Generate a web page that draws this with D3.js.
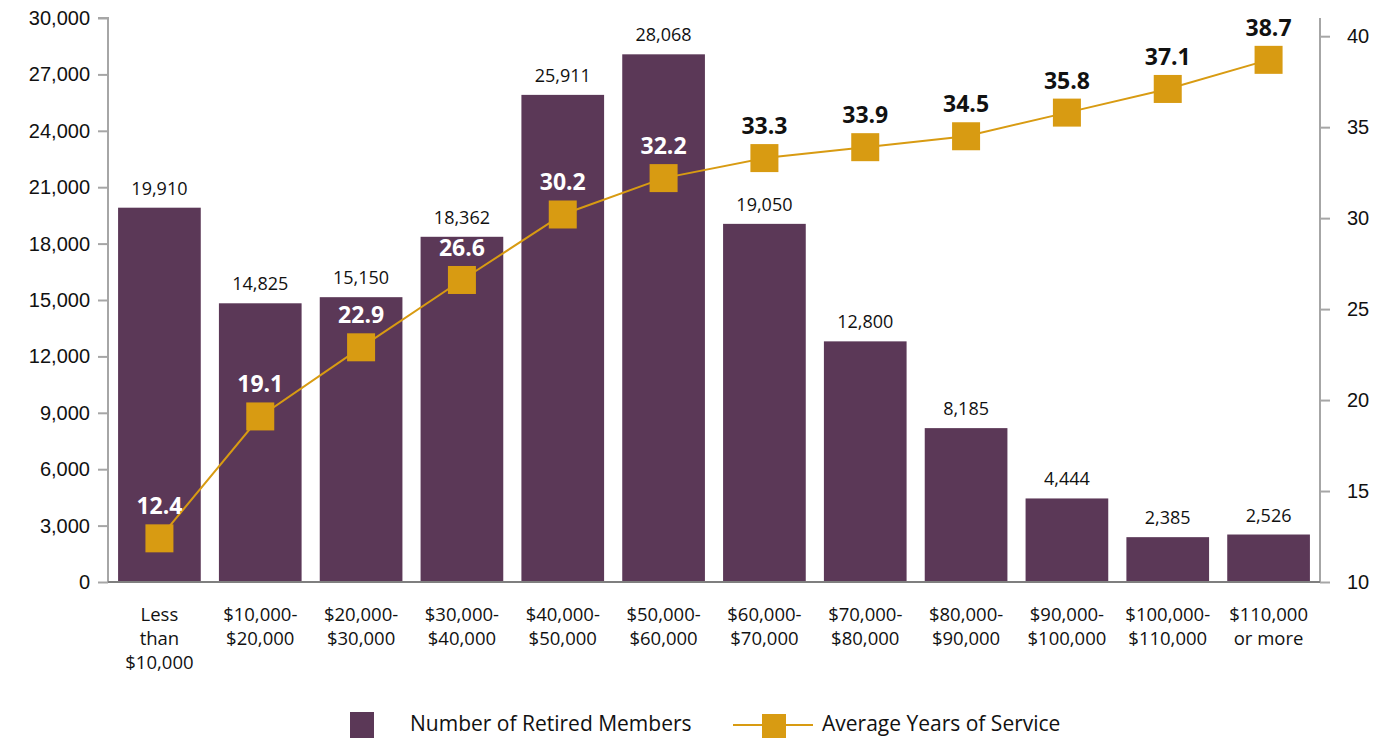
<!DOCTYPE html>
<html>
<head>
<meta charset="utf-8">
<script src="https://cdn.jsdelivr.net/npm/d3@7"></script>
<style>
  body { margin: 0; background: #fff; }
  svg { font-family: "Open Sans", "Noto Sans", sans-serif; }
</style>
</head>
<body>
<svg id="chart" width="1385" height="738"></svg>
<script>
// categories (salary bands), split into label lines
var categories = [
  ["Less", "than", "$10,000"],
  ["$10,000-", "$20,000"],
  ["$20,000-", "$30,000"],
  ["$30,000-", "$40,000"],
  ["$40,000-", "$50,000"],
  ["$50,000-", "$60,000"],
  ["$60,000-", "$70,000"],
  ["$70,000-", "$80,000"],
  ["$80,000-", "$90,000"],
  ["$90,000-", "$100,000"],
  ["$100,000-", "$110,000"],
  ["$110,000", "or more"]
]
var retiredMembers = [19910, 14825, 15150, 18362, 25911, 28068, 19050, 12800, 8185, 4444, 2385, 2526]
var avgYears = [12.4, 19.1, 22.9, 26.6, 30.2, 32.2, 33.3, 33.9, 34.5, 35.8, 37.1, 38.7]
var leftTicks = [0, 3000, 6000, 9000, 12000, 15000, 18000, 21000, 24000, 27000, 30000]
var rightTicks = [10, 15, 20, 25, 30, 35, 40]

var barColor = "#5b3857"
var lineColor = "#d89b12"
var axisColor = "#a6a6a6"

var svg = d3.select("#chart")
// note: "top" is taken by window.top, so use plot* names
var plotLeft = 108, plotRight = 1320, plotTop = 18, plotBottom = 582

var x = d3.scaleBand()
  .domain(d3.range(categories.length))
  .range([plotLeft, plotRight])
  .paddingInner(0.18)
  .paddingOuter(0.1)

var y = d3.scaleLinear().domain([0, 30000]).range([plotBottom, plotTop])
var y2 = d3.scaleLinear().domain([10, 41]).range([plotBottom, plotTop])

// left axis
var gL = svg.append("g").attr("transform", "translate(" + plotLeft + ",0)")
  .call(d3.axisLeft(y).tickValues(leftTicks).tickSize(10).tickPadding(8)
    .tickFormat(d3.format(",")))
gL.select(".domain").attr("stroke", axisColor).attr("stroke-width", 2).attr("d", "M-10," + plotTop + "H0V" + plotBottom)
gL.selectAll(".tick line").attr("stroke", axisColor).attr("stroke-width", 2)
gL.selectAll("text").attr("font-size", 20).attr("fill", "#111")

// right axis
var gR = svg.append("g").attr("transform", "translate(" + plotRight + ",0)")
  .call(d3.axisRight(y2).tickValues(rightTicks).tickSize(10).tickPadding(17))
gR.select(".domain").attr("stroke", axisColor).attr("stroke-width", 2).attr("d", "M0," + plotTop + "V" + plotBottom)
gR.selectAll(".tick line").attr("stroke", axisColor).attr("stroke-width", 2)
gR.selectAll("text").attr("font-size", 20).attr("fill", "#111")

// bars
svg.append("g").selectAll("rect")
  .data(retiredMembers)
  .enter().append("rect")
  .attr("x", (d, i) => x(i))
  .attr("width", x.bandwidth())
  .attr("y", d => y(d))
  .attr("height", d => plotBottom - y(d))
  .attr("fill", barColor)

// baseline
svg.append("line")
  .attr("x1", plotLeft).attr("x2", plotRight)
  .attr("y1", plotBottom).attr("y2", plotBottom)
  .attr("stroke", "#7f7f7f").attr("stroke-width", 2)

// bar value labels
svg.append("g").selectAll("text")
  .data(retiredMembers)
  .enter().append("text")
  .attr("x", (d, i) => x(i) + x.bandwidth() / 2)
  .attr("y", d => y(d) - 13)
  .attr("text-anchor", "middle")
  .attr("font-size", 18)
  .attr("fill", "#111")
  .text(d3.format(","))

// category labels
var cx = svg.append("g").selectAll("text")
  .data(categories)
  .enter().append("text")
  .attr("x", (d, i) => x(i) + x.bandwidth() / 2)
  .attr("y", 621)
  .attr("text-anchor", "middle")
  .attr("font-size", 18.5)
  .attr("fill", "#111")
cx.selectAll("tspan")
  .data(d => d)
  .enter().append("tspan")
  .attr("x", function() { return this.parentNode.getAttribute("x") })
  .attr("dy", (d, i) => i == 0 ? 0 : 24)
  .text(d => d)

// line
var line = d3.line()
  .x((d, i) => x(i) + x.bandwidth() / 2)
  .y(d => y2(d))
svg.append("path")
  .datum(avgYears)
  .attr("d", line)
  .attr("fill", "none")
  .attr("stroke", lineColor)
  .attr("stroke-width", 2)

var ms = 28
svg.append("g").selectAll("rect")
  .data(avgYears)
  .enter().append("rect")
  .attr("x", (d, i) => x(i) + x.bandwidth() / 2 - ms / 2)
  .attr("y", d => y2(d) - ms / 2)
  .attr("width", ms).attr("height", ms)
  .attr("fill", lineColor)

// line labels: white when over a bar, black above
svg.append("g").selectAll("text")
  .data(avgYears)
  .enter().append("text")
  .attr("x", (d, i) => x(i) + x.bandwidth() / 2)
  .attr("y", d => y2(d) - 24)
  .attr("text-anchor", "middle")
  .attr("font-size", 23)
  .attr("font-weight", "bold")
  .attr("fill", (d, i) => y2(d) - 40 > y(retiredMembers[i]) ? "#fff" : "#111")
  .text(d => d.toFixed(1))

// legend
var lg = svg.append("g")
lg.append("rect").attr("x", 350).attr("y", 712).attr("width", 24).attr("height", 26).attr("fill", barColor)
lg.append("text").attr("x", 410).attr("y", 731).attr("font-size", 21).attr("fill", "#111").text("Number of Retired Members")
lg.append("line").attr("x1", 733).attr("x2", 813).attr("y1", 725).attr("y2", 725)
  .attr("stroke", lineColor).attr("stroke-width", 2)
lg.append("rect").attr("x", 762).attr("y", 714).attr("width", 24).attr("height", 24).attr("fill", lineColor)
lg.append("text").attr("x", 822).attr("y", 731).attr("font-size", 21).attr("fill", "#111").text("Average Years of Service")
</script>
</body>
</html>
